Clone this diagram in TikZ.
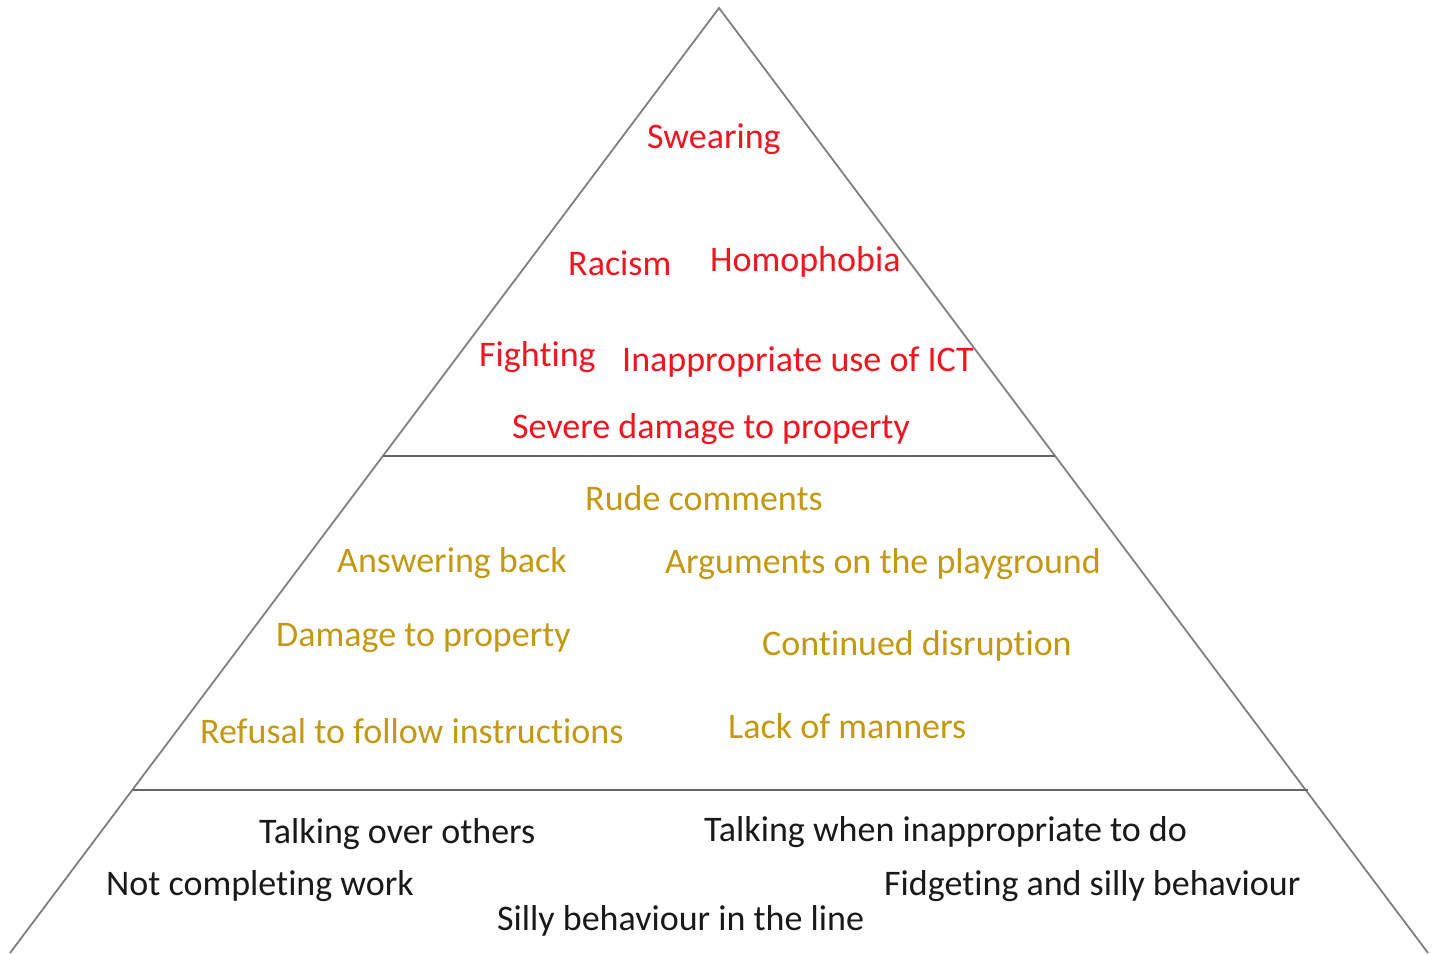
\documentclass[tikz,border=0pt]{standalone}
\usepackage{fontspec}
\setmainfont{Carlito}[Ligatures={NoCommon}]
\definecolor{tred}{RGB}{242,20,30}
\definecolor{tgold}{RGB}{196,152,16}
\definecolor{tblack}{RGB}{25,25,25}
\definecolor{lgray}{RGB}{128,128,128}
\begin{document}
\begin{tikzpicture}[x=1pt,y=-1pt,
  lbl/.style={anchor=base west,inner sep=0pt,font=\fontsize{36}{40}\selectfont},
  top/.style={lbl,text=tred},
  mid/.style={lbl,text=tgold},
  low/.style={lbl,text=tblack},
  edge/.style={draw=lgray,line width=1.8pt},
  tier/.style={draw=lgray!80!black,line width=2.4pt}]
\useasboundingbox (0,0) rectangle (1437,953);
\coordinate (apex) at (719,8);
\coordinate (bl) at (10,953);
\coordinate (br) at (1428,953);
\coordinate (t1l) at (383,456);
\coordinate (t1r) at (1055,456);
\coordinate (t2l) at (133,790);
\coordinate (t2r) at (1308,790);
\draw[edge] (bl) -- (apex) -- (br);
\draw[tier] (t1l) -- (t1r);
\draw[tier] (t2l) -- (t2r);
% top tier
\node[top] (swear) at (647,148) {Swearing};
\node[top] (racism) at (568,275) {Racism};
\node[top] (homo) at (710,271) {Homophobia};
\node[top] (fight) at (479,366) {Fighting};
\node[top] (ict) at (622,371) {Inappropriate use of ICT};
\node[top] (severe) at (512,438) {Severe damage to property};
% middle tier
\node[mid] (rude) at (585,510) {Rude comments};
\node[mid] (answer) at (337,572) {Answering back};
\node[mid] (argue) at (665,573) {Arguments on the playground};
\node[mid] (damage) at (276,646) {Damage to property};
\node[mid] (cont) at (762,655) {Continued disruption};
\node[mid] (refuse) at (200,743) {Refusal to follow instructions};
\node[mid] (lack) at (728,738) {Lack of manners};
% bottom tier
\node[low] (talkover) at (259,843) {Talking over others};
\node[low] (talkwhen) at (704,841) {Talking when inappropriate to do};
\node[low] (notcomp) at (106,895) {Not completing work};
\node[low] (fidget) at (884,895) {Fidgeting and silly behaviour};
\node[low] (silly) at (497,930) {Silly behaviour in the line};
\end{tikzpicture}
\end{document}
